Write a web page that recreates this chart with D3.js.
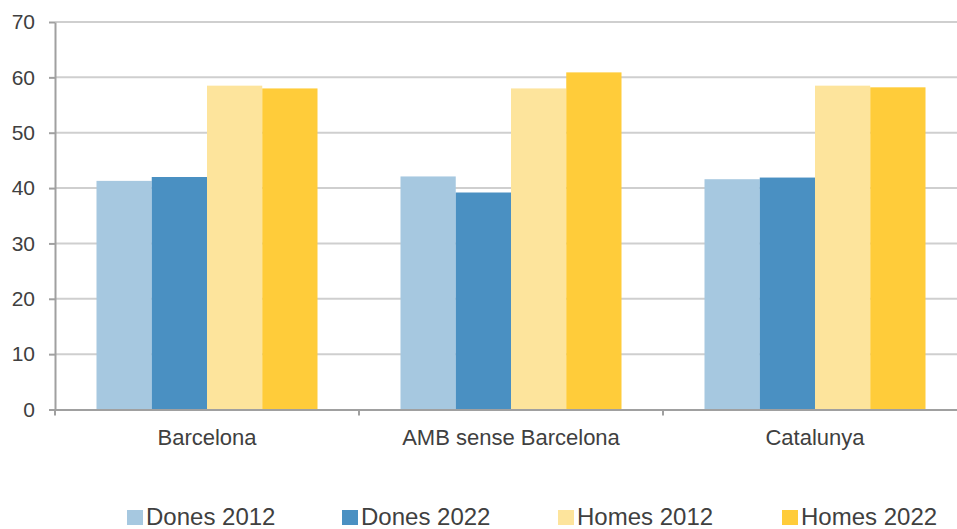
<!DOCTYPE html>
<html>
<head>
<meta charset="utf-8">
<script src="https://cdn.jsdelivr.net/npm/d3@7"></script>
<style>
  html, body { margin: 0; padding: 0; background: #fff; }
  svg { display: block; font-family: "Liberation Sans", Arial, sans-serif; }
</style>
</head>
<body>
<svg id="chart" width="957" height="529"></svg>
<script>
const categories = ["Barcelona", "AMB sense Barcelona", "Catalunya"];
const seriesNames = ["Dones 2012", "Dones 2022", "Homes 2012", "Homes 2022"];
const dones2012 = [41.3, 42.1, 41.6];
const dones2022 = [42.0, 39.2, 41.9];
const homes2012 = [58.5, 58.0, 58.5];
const homes2022 = [58.0, 60.9, 58.2];
const yTicks = [0, 10, 20, 30, 40, 50, 60, 70];
const colors = ["#a6c8e0", "#4a90c2", "#fde49c", "#ffcc3a"];

const seriesValues = [dones2012, dones2022, homes2012, homes2022];

(function () {
const svg = d3.select("#chart");
const mLeft = 55, mRight = 967, mTop = 22, mBottom = 409.5;

const x = d3.scaleBand().domain(categories).range([mLeft, mRight]).padding(0);
const bw = x.bandwidth();
const xs = d3.scaleBand().domain(seriesNames).range([bw * 0.1365, bw * (1 - 0.1365)]).padding(0);
const y = d3.scaleLinear().domain([0, 70]).range([mBottom, mTop]);

// gridlines
svg.append("g").selectAll("line").data(yTicks.filter(d => d > 0)).join("line")
  .attr("x1", mLeft).attr("x2", 957)
  .attr("y1", d => y(d)).attr("y2", d => y(d))
  .attr("stroke", "#cfcfcf").attr("stroke-width", 2);

// bars
const groups = svg.append("g").selectAll("g").data(categories).join("g")
  .attr("transform", d => `translate(${x(d)},0)`);
groups.selectAll("rect")
  .data((c, i) => seriesNames.map((s, j) => ({ s, j, v: seriesValues[j][i] })))
  .join("rect")
  .attr("x", d => xs(d.s))
  .attr("width", xs.bandwidth())
  .attr("y", d => y(d.v))
  .attr("height", d => y(0) - y(d.v))
  .attr("fill", d => colors[d.j]);

// y axis
const yAxis = svg.append("g").attr("transform", `translate(${mLeft},0)`)
  .call(d3.axisLeft(y).tickValues(yTicks).tickSize(6).tickSizeOuter(0).tickPadding(14));
yAxis.select(".domain").attr("stroke", "#a0a0a0").attr("stroke-width", 2);
yAxis.selectAll(".tick line").attr("stroke", "#a0a0a0").attr("stroke-width", 2);
yAxis.selectAll(".tick text").attr("font-size", 21).attr("fill", "#404040")
  .attr("font-family", "Liberation Sans, Arial, sans-serif");

// x axis
const xAxis = svg.append("g").attr("transform", `translate(0,${mBottom})`)
  .call(d3.axisBottom(x).tickSize(0).tickPadding(20));
xAxis.select(".domain").attr("stroke", "#a0a0a0").attr("stroke-width", 2);
xAxis.selectAll(".tick text").attr("font-size", 22).attr("fill", "#404040")
  .attr("font-family", "Liberation Sans, Arial, sans-serif");
// category separator ticks
svg.append("g").selectAll("line")
  .data(categories.map(c => x(c)))
  .join("line")
  .attr("x1", d => d).attr("x2", d => d)
  .attr("y1", mBottom).attr("y2", mBottom + 6)
  .attr("stroke", "#a0a0a0").attr("stroke-width", 2);

// legend
const legendX = [127, 342, 558, 782];
const legend = svg.append("g").selectAll("g").data(seriesNames).join("g")
  .attr("transform", (d, i) => `translate(${legendX[i]},0)`);
legend.append("rect").attr("x", 0).attr("y", 510).attr("width", 16).attr("height", 15)
  .attr("fill", (d, i) => colors[i]);
legend.append("text").attr("x", 19).attr("y", 525).text(d => d)
  .attr("font-size", 24).attr("fill", "#404040");
})();
</script>
</body>
</html>
